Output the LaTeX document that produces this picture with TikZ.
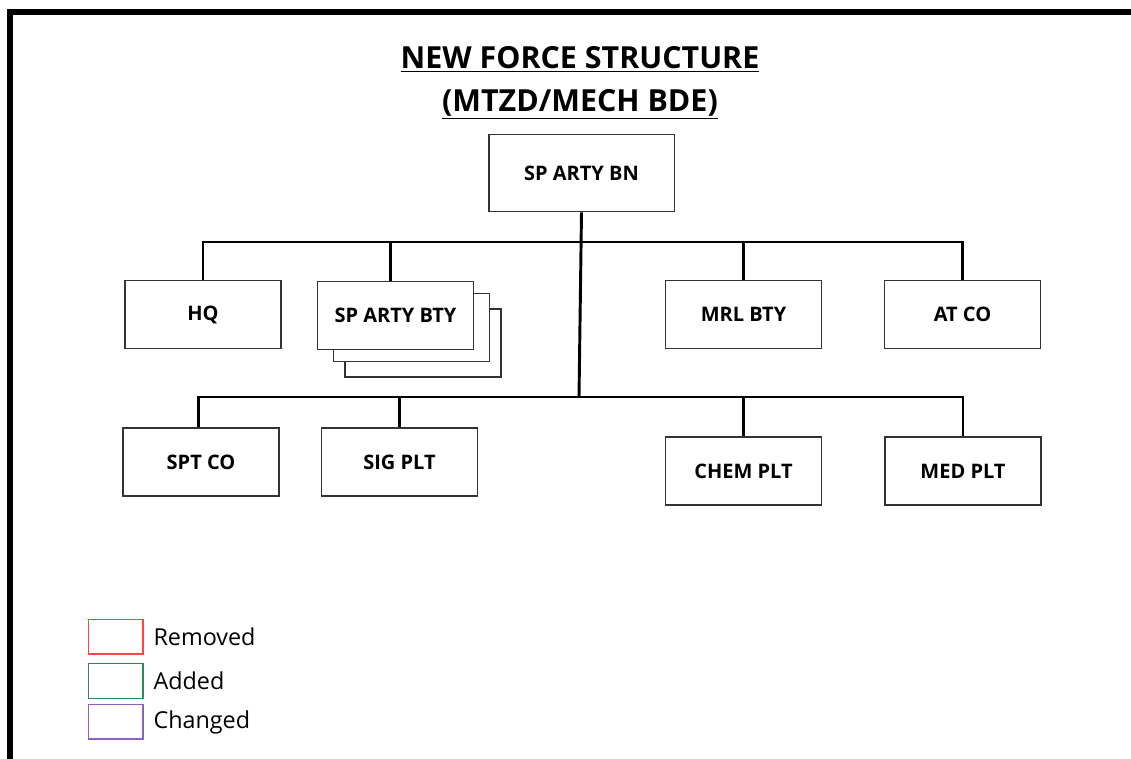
\documentclass[tikz,border=0pt]{standalone}
\usepackage{fontspec}
\setmainfont{Open Sans}
\usetikzlibrary{positioning}
\definecolor{remred}{HTML}{FF4444}
\definecolor{addgreen}{HTML}{2E8B57}
\definecolor{chgpurple}{HTML}{9060C0}
\tikzset{
  unit/.style={draw=black!80, line width=1pt, fill=white, minimum width=117pt, minimum height=51pt,
    inner sep=0pt, font=\bfseries\fontsize{15}{17}\selectfont},
  link/.style={line width=2.2pt},
  keybox/.style={line width=1pt, minimum width=41pt, minimum height=26pt, inner sep=0pt},
  keytext/.style={right=4pt, font=\fontsize{17.5}{20}\selectfont}
}
\begin{document}
\begin{tikzpicture}[x=0.75pt,y=-0.75pt]
\useasboundingbox (0,0) rectangle (1131,759);
% frame
\draw[line width=4.5pt] (10,759) -- (10,12) -- (1131,12);
% title
\node[align=center, font=\bfseries\fontsize{22.8}{32}\selectfont] (title) at (580,83)
  {\underline{NEW FORCE STRUCTURE}\\\underline{(MTZD/MECH BDE)}};
% battalion
\node[unit, minimum width=139pt, minimum height=58pt] (bn) at (581.5,173) {SP ARTY BN};
% first row
\node[unit] (hq) at (203,314.5) {HQ};
\node[unit] (bty3) at (423,343) {};
\node[unit] (bty2) at (411.5,327.5) {};
\node[unit] (bty) at (395.5,315.5) {SP ARTY BTY};
\node[unit] (mrl) at (743.5,314.5) {MRL BTY};
\node[unit] (atco) at (962.5,314.5) {AT CO};
% second row
\node[unit] (spt) at (201,462) {SPT CO};
\node[unit] (sig) at (399.5,462) {SIG PLT};
\node[unit] (chem) at (743.5,471) {CHEM PLT};
\node[unit] (med) at (963,471) {MED PLT};
% buses
\coordinate (bus1) at (579,242);
\coordinate (bus2) at (579,397);
\draw[link] (bn.south) -- (bus2);
\draw[link] (hq.north) |- (atco.north |- bus1) -- (atco.north);
\draw[link] ([xshift=-4pt]bty.north) -- ([xshift=-4pt]bty.north |- bus1);
\draw[link] (mrl.north) -- (mrl.north |- bus1);
\draw[link] ([xshift=-2pt]spt.north) |- (med.north |- bus2) -- (med.north);
\draw[link] (sig.north) -- (sig.north |- bus2);
\draw[link] (chem.north) -- (chem.north |- bus2);
% legend
\node[keybox, draw=remred] (removed) at (115.5,636.5) {};
\node[keybox, draw=addgreen] (added) at (115.5,681) {};
\node[keybox, draw=chgpurple] (changed) at (115.5,721.5) {};
\node[keytext] at (removed.east) {Removed};
\node[keytext] at (added.east) {Added};
\node[keytext] at ([yshift=-1pt]changed.east) {Changed};
\end{tikzpicture}
\end{document}
